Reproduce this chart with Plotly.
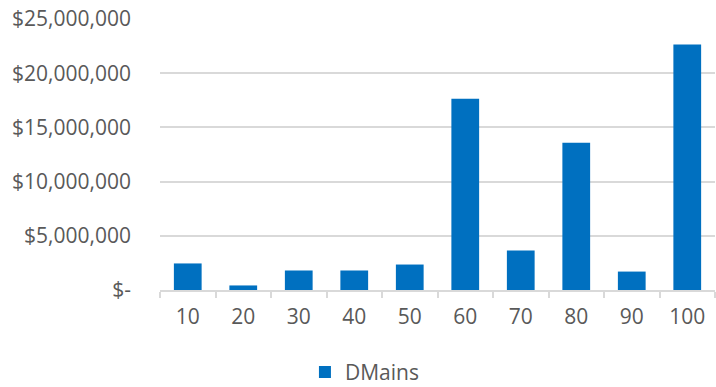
import plotly.graph_objects as go

categories = ["10", "20", "30", "40", "50", "60", "70", "80", "90", "100"]
dmains = [2450000, 420000, 1800000, 1800000, 2350000, 17640000, 3640000, 13580000, 1700000, 22650000]
tick_vals = [0, 5000000, 10000000, 15000000, 20000000, 25000000]
tick_text = ["$-", "$5,000,000", "$10,000,000", "$15,000,000", "$20,000,000", "$25,000,000"]

FONT = "Open Sans, Liberation Sans, Arial, sans-serif"
GREY = "#595959"
GRID = "#d9d9d9"
FS = 21

fig = go.Figure()
fig.add_trace(go.Bar(
    x=categories, y=dmains, name="DMains",
    marker=dict(color="#0070c0", line=dict(width=0)),
    showlegend=True,
))

fig.update_layout(
    width=716, height=387,
    margin=dict(l=160, r=1, t=19, b=97),
    paper_bgcolor="white", plot_bgcolor="white",
    bargap=0.5,
    font=dict(family=FONT, size=FS, color=GREY),
    showlegend=True,
    legend=dict(orientation="h", xref="container", yref="container",
                x=0.509, xanchor="center", y=0.038, yanchor="middle",
                font=dict(size=FS, color=GREY), itemwidth=30),
    xaxis=dict(type="category", showgrid=False, showline=True, linecolor=GRID, linewidth=1.5,
               ticks="outside", tickson="boundaries", ticklen=6, tickcolor=GRID, tickwidth=1.5,
               ticklabelstandoff=7, tickfont=dict(size=FS, color=GREY)),
    yaxis=dict(range=[0, 25000000], tickvals=tick_vals, ticktext=tick_text,
               showgrid=True, gridcolor=GRID, gridwidth=1.5, zeroline=False,
               showline=False, ticks="", ticklabelstandoff=28,
               tickfont=dict(size=FS, color=GREY)),
)

fig.write_html("out.html")
